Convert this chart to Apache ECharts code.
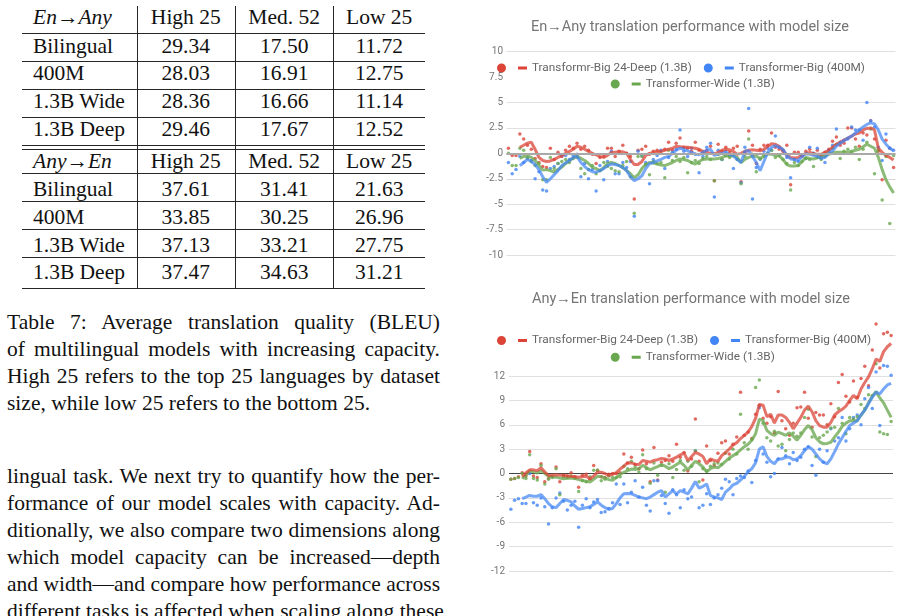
<!DOCTYPE html>
<html>
<head>
<meta charset="utf-8">
<title>Translation performance with model size</title>
<script src="https://cdn.jsdelivr.net/npm/echarts@6.0.0/dist/echarts.min.js"></script>
<style>
  html, body { margin: 0; padding: 0; background: #fff; }
  body { position: relative; width: 901px; height: 616px; overflow: hidden;
         font-family: "Liberation Serif", "DejaVu Serif", serif; color: #111; }
  .txt { position: absolute; font-size: 21.5px; line-height: 26.7px; white-space: nowrap; }
  .just { left: 7px; width: 433px; text-align: justify; text-align-last: justify; }
  .rule { position: absolute; background: #262626; }
  #chart { position: absolute; left: 460px; top: 0; width: 441px; height: 616px; }
</style>
</head>
<body>
<div id="page"></div>
<div id="chart"></div>
<script>
// ---- table 7 ----
const enAnyHead = ['En→Any', 'High 25', 'Med. 52', 'Low 25'];
const enAnyRows = [
  ['Bilingual', '29.34', '17.50', '11.72'],
  ['400M', '28.03', '16.91', '12.75'],
  ['1.3B Wide', '28.36', '16.66', '11.14'],
  ['1.3B Deep', '29.46', '17.67', '12.52']
];
const anyEnHead = ['Any→En', 'High 25', 'Med. 52', 'Low 25'];
const anyEnRows = [
  ['Bilingual', '37.61', '31.41', '21.63'],
  ['400M', '33.85', '30.25', '26.96'],
  ['1.3B Wide', '37.13', '33.21', '27.75'],
  ['1.3B Deep', '37.47', '34.63', '31.21']
];
const captionLines = [
  'Table 7:  Average translation quality (BLEU)',
  'of multilingual models with increasing capacity.',
  'High 25 refers to the top 25 languages by dataset',
  'size, while low 25 refers to the bottom 25.'
];
const bodyLines = [
  'lingual task. We next try to quantify how the per-',
  'formance of our model scales with capacity. Ad-',
  'ditionally, we also compare two dimensions along',
  'which model capacity can be increased—depth',
  'and width—and compare how performance across',
  'different tasks is affected when scaling along these'
];

// ---- chart series (one value per language pair) ----
const languages = Array.from({ length: 102 }, (_, i) => 'L' + (i + 1));

const enAnyDeepPts = [0.5,-0.2,-0.2,1.9,1.4,0.8,0.4,-0.5,-0.9,-1.3, -1.4,0.5,-0.6,0.1,-0.3,0.3,0.7,0.5,1.0,0.4,
  0.7,0.3,-0.1,-1.0,-0.4,-0.3,0.5,0.5,-0.3,0.2, 0.8,0.0,-0.3,-4.5,0.3,0.4,0.7,-0.1,0.2,0.3,
  0.2,0.4,1.1,0.3,1.0,1.5,0.6,0.5,0.2,1.1, 0.3,0.1,0.3,0.7,-2.7,0.9,0.2,0.6,0.1,0.5,
  0.7,-2.8,0.1,2.2,0.8,-1.0,0.4,0.8,0.8,2.0, 0.6,0.4,0.2,0.8,-3.1,0.1,0.1,-0.3,0.2,0.4,
  -0.1,0.3,-0.2,0.1,0.4,1.2,1.6,0.8,1.0,2.5, 2.5,1.4,0.7,2.0,1.8,3.2,1.4,0.2,-2.6,1.3, 0.5,-1.4];
const enAnyBigPts = [-0.9,-2.0,-1.6,-0.3,-0.9,-0.4,-0.7,-2.5,-1.8,-3.6, -3.7,-1.5,-1.3,-1.0,-0.2,-0.2,-0.6,-0.2,-0.1,-2.3,
  -1.0,-2.5,-1.6,-3.7,-1.2,-2.6,-0.8,0.2,-2.0,-2.0, -0.9,-1.4,-0.8,-6.2,0.2,-0.2,-0.9,-3.0,-0.6,-0.2,
  0.3,-1.5,-0.4,0.1,0.4,2.3,0.2,-0.3,0.5,-0.1, -1.9,-0.3,0.6,1.0,-4.3,0.3,-0.6,0.2,-0.2,-1.5,
  -0.6,-2.9,0.6,4.4,-4.5,-1.4,-0.6,0.2,0.5,0.3, 1.7,0.6,0.3,-0.4,-2.4,-0.6,-0.8,-0.2,-0.5,0.6,
  0.0,0.5,-0.4,-0.9,0.3,0.8,2.4,1.1,1.3,1.4, 2.6,2.3,2.3,1.3,5.0,3.2,2.6,0.6,-0.7,1.9, 0.5,0.3];
const enAnyWidePts = [0.0,-1.2,-1.2,0.5,0.3,-0.5,-0.8,-1.2,-1.0,-2.6, -2.6,-0.4,-1.5,-1.0,-0.8,-0.6,-0.9,-0.5,-0.4,-1.5,
  -2.0,-1.6,-1.2,-2.0,-1.7,-0.9,-1.3,-1.5,-1.7,-1.8, -1.2,-0.8,-2.3,-5.9,-0.3,-0.3,-1.1,-2.1,-0.8,-1.0,
  -0.9,-2.4,0.3,-0.7,-0.3,-0.8,-0.4,-1.9,-0.9,-0.7, -1.0,-0.5,-0.3,-0.6,-2.7,-0.1,-0.6,-0.2,-0.4,-0.1,
  -0.6,-3.0,-0.3,1.4,-0.1,-1.8,-0.5,-0.2,0.0,0.3, -0.4,-0.2,-0.6,-1.0,-3.6,-0.9,-1.2,-0.8,-0.5,-0.6,
  -1.3,-0.4,-0.6,-0.3,0.1,0.5,0.9,-0.5,0.2,0.4, 0.1,0.6,-0.6,0.4,1.1,2.4,-2.0,0.3,-4.6,-0.3, -6.9,-0.2];

const enAnyDeepAvg = [null,null,null,0.6,0.8,1.0,1.1,0.4,-0.4,-0.7, -0.8,-0.75,-0.6,-0.4,-0.2,0.0,0.2,0.4,0.7,0.6,
  0.4,0.2,0.0,-0.15,-0.3,-0.4,-0.2,0.1,0.1,0.15, 0.15,0.0,-0.6,-1.1,-1.1,-0.8,-0.2,0.0,0.1,0.15,
  0.2,0.3,0.4,0.5,0.7,0.65,0.6,0.6,0.55,0.5, 0.4,0.2,0.1,0.0,-0.05,0.1,0.3,0.4,0.35,0.2,
  -0.1,0.0,0.2,0.3,0.35,0.3,0.25,0.4,0.7,0.95, 0.9,0.7,0.3,-0.2,-0.4,-0.45,-0.4,-0.2,0.0,0.1,
  0.0,-0.1,-0.1,0.1,0.3,0.6,0.9,1.1,1.3,1.5, 1.7,1.9,2.0,2.3,2.45,2.5,2.3,0.5,0.1,-0.2, -0.4,-0.65];
const enAnyBigAvg = [null,null,null,-1.2,-0.9,-0.6,-0.8,-1.1,-1.6,-2.3, -2.85,-2.5,-2.1,-1.7,-1.2,-0.95,-0.7,-0.4,-0.3,-0.9,
  -1.3,-1.6,-1.8,-1.85,-1.7,-1.5,-1.2,-1.05,-1.1,-1.2, -1.4,-1.7,-2.3,-2.7,-2.5,-2.2,-1.5,-1.0,-0.9,-0.75,
  -0.6,-0.4,-0.3,0.0,0.3,0.5,0.4,0.25,0.1,-0.05, -0.15,0.1,0.3,0.4,-0.2,-0.1,0.0,0.05,-0.1,-0.25,
  -0.6,-0.9,0.2,0.25,-0.3,-0.9,-1.7,-0.8,0.1,0.6, 0.75,0.6,0.4,-0.2,-0.55,-0.6,-0.7,-0.3,-0.05,-0.1,
  -0.2,-0.3,-0.5,-0.4,0.0,0.25,0.7,1.0,1.25,1.5, 1.7,2.0,2.3,2.6,2.85,3.0,2.9,2.3,1.4,0.9, 0.5,0.25];
const enAnyWideAvg = [null,null,null,-0.5,-0.3,-0.25,-0.4,-0.7,-1.2,-1.65, -1.6,-1.7,-1.85,-1.6,-1.35,-1.0,-0.7,-0.45,-0.25,-0.5,
  -0.7,-1.0,-1.35,-1.5,-1.7,-1.4,-1.0,-0.9,-1.0,-1.2, -1.4,-1.7,-2.0,-2.4,-2.1,-1.5,-1.1,-0.9,-0.95,-1.05,
  -1.15,-1.2,-1.05,-0.9,-0.7,-0.55,-0.6,-0.7,-0.9,-1.05, -0.8,-0.6,-0.55,-0.55,-0.55,-0.5,-0.4,-0.25,-0.25,-0.25,
  -0.4,-0.9,-0.6,-0.4,-0.3,-0.25,-0.5,-0.3,-0.05,-0.1, -0.2,-0.25,-0.6,-1.1,-1.25,-1.25,-1.2,-0.8,-0.4,-0.5,
  -0.55,-0.45,-0.3,-0.25,-0.1,0.05,0.1,0.1,0.1,0.1, 0.2,0.3,0.4,0.65,0.9,0.7,0.5,-0.4,-1.6,-2.6, -3.3,-3.9];

const anyEnDeepPts = [-0.7,-0.6,-0.4,0.1,-0.3,2.7,-0.3,-0.5,1.2,-1.0, -0.6,-0.4,0.8,-1.0,-0.2,-0.3,0.1,-0.4,-1.7,-0.2,
  -0.1,-0.7,1.0,0.4,-0.4,-0.5,-0.1,0.0,0.0,0.1, 2.4,1.3,2.0,1.1,0.6,2.9,1.2,-1.0,3.2,-0.8,
  1.4,1.6,2.2,1.5,3.6,2.0,2.6,0.3,1.8,6.7, 1.5,-0.8,3.4,1.6,1.0,2.5,3.8,4.0,2.4,3.6,
  4.5,10.0,4.7,5.1,4.3,7.3,8.4,6.8,6.2,7.0, 5.0,10.1,6.5,5.5,4.7,6.2,8.1,8.2,10.0,6.8,
  5.7,7.5,7.2,7.2,6.0,8.6,7.0,11.2,12.2,9.5, 8.8,11.4,9.4,11.7,13.2,10.8,15.2,18.4,13.0,17.2, 17.4,17.0];
const anyEnBigPts = [-4.4,-3.3,-3.1,-3.7,-3.7,0.0,-3.6,-3.9,-3.0,-4.1, -6.2,-4.2,-3.0,-2.4,-3.4,-4.5,-3.9,-3.4,-6.6,-3.9,
  -3.1,-4.2,-3.5,-3.2,-4.8,-4.7,-4.3,-3.6,-1.3,-3.8, -1.3,-3.6,-2.3,-0.9,-2.9,-1.7,-3.9,-4.6,-0.9,-0.9,
  -2.7,-3.7,-4.9,-2.0,-2.6,-4.2,-2.0,-3.1,-2.9,2.8, -4.2,-3.9,-2.5,-3.8,-3.0,-2.6,-1.8,-0.7,-1.0,-2.6,
  -0.6,-0.3,-0.5,0.3,-1.1,1.6,8.1,2.4,1.4,-0.4, 0.0,1.8,3.2,2.2,1.2,2.6,1.6,2.0,3.0,3.3,
  1.0,-0.2,3.0,1.4,2.8,5.5,4.0,4.4,6.9,4.0, 5.5,6.9,7.2,6.0,9.2,10.6,8.0,12.5,5.9,13.3, 13.2,12.1];
const anyEnWidePts = [-0.7,-0.6,-0.5,0.0,-0.6,2.3,-0.6,-0.8,1.0,-1.3, -0.7,-0.5,0.6,-2.6,-0.4,-0.5,-0.3,-0.6,-2.2,-0.9,
  -1.0,-0.4,0.4,0.4,-0.9,-0.7,-0.3,-0.5,-0.5,-0.4, 0.9,0.6,1.5,0.8,0.2,2.3,0.6,-1.2,1.3,-0.2,
  1.0,-2.3,1.2,-0.5,0.5,1.6,0.4,1.5,0.9,2.8, -1.0,0.6,0.3,0.9,1.2,1.3,1.1,2.5,1.8,3.0,
  2.4,7.3,3.8,3.0,4.2,10.6,11.5,6.2,4.4,4.0, 5.2,3.4,3.6,2.8,4.2,5.0,4.6,5.0,6.9,7.9,
  4.5,2.1,4.4,4.7,5.1,5.6,5.7,8.0,6.2,4.9, 6.9,6.7,7.0,8.5,8.0,9.7,9.6,13.5,5.1,4.9, 4.8,6.4];

const anyEnDeepAvg = [null,null,null,-0.4,0.1,0.45,0.45,0.35,0.7,0.2, -0.25,-0.2,-0.15,-0.2,-0.25,-0.3,-0.35,-0.4,-0.45,-0.4,
  -0.35,-0.65,-0.3,0.15,0.15,0.0,-0.25,-0.1,0.1,0.55, 0.9,1.3,1.3,1.15,1.1,1.6,1.5,1.4,1.6,1.7,
  1.85,1.8,1.6,1.8,2.0,2.3,2.5,1.6,2.1,2.6, 2.4,2.1,1.2,1.8,1.6,1.5,2.2,2.6,3.0,3.5,
  3.8,4.3,4.7,5.1,5.8,6.8,8.5,8.4,7.0,7.3, 6.2,7.2,7.2,6.9,6.3,5.5,6.2,6.9,7.8,8.3,
  7.6,6.5,5.9,5.7,5.7,6.3,7.2,7.6,7.9,8.3, 9.0,9.6,9.2,10.4,11.2,11.9,12.9,14.1,13.8,15.0, 15.6,16.0];
const anyEnBigAvg = [null,null,null,-3.1,-2.9,-2.7,-2.8,-2.8,-2.6,-3.1, -3.7,-4.1,-4.2,-3.7,-3.2,-3.3,-3.5,-4.0,-4.4,-4.3,
  -4.2,-4.1,-3.8,-3.5,-3.9,-4.2,-4.4,-4.3,-3.7,-3.0, -2.5,-2.45,-2.5,-2.7,-2.9,-3.0,-3.1,-2.9,-2.6,-2.3,
  -2.1,-2.9,-2.5,-2.1,-2.5,-2.1,-2.3,-2.5,-1.8,-1.0, -1.8,-1.6,-1.3,-2.7,-2.9,-3.0,-3.2,-2.3,-1.9,-1.4,
  -1.2,-0.8,-0.35,0.2,0.6,1.3,3.0,3.3,2.1,1.5, 1.2,1.8,1.8,2.0,2.0,1.7,1.8,2.2,2.8,3.3,
  3.0,2.4,1.8,1.4,1.2,1.8,2.7,3.65,4.4,5.2, 5.9,6.2,6.5,7.2,7.8,8.6,9.4,10.0,9.8,10.4, 10.9,11.1];
const anyEnWideAvg = [null,null,null,-0.65,-0.2,0.3,0.2,0.05,0.35,0.0, -0.35,-0.4,-0.45,-0.55,-0.65,-0.6,-0.55,-0.6,-0.75,-0.85,
  -0.95,-1.05,-0.7,-0.35,-0.4,-0.55,-0.75,-0.85,-0.5,-0.1, 0.15,0.35,0.55,0.5,0.6,1.0,0.75,0.45,0.65,0.85,
  1.1,0.9,0.6,0.8,1.1,1.4,1.0,0.45,1.0,1.5, 1.2,0.8,0.2,0.6,0.8,0.7,1.1,1.5,1.9,2.2,
  2.5,2.9,3.3,3.6,4.1,4.9,6.7,6.5,5.3,4.9, 4.7,5.1,4.9,4.7,5.0,4.6,4.1,4.7,5.4,5.9,
  5.4,4.4,3.9,3.65,3.7,3.85,4.5,5.1,5.8,6.2, 6.5,6.5,6.5,7.2,7.8,8.7,9.5,10.1,9.3,8.7, 7.8,6.9];

// ---- left column: table, caption, body text ----
const page = document.getElementById('page');
function put(cls, text, css) {
  const d = document.createElement('div');
  d.className = cls;
  d.textContent = text;
  Object.assign(d.style, css);
  page.appendChild(d);
  return d;
}
const ASC = 20.6; // baseline offset in a 26.7px line box
const colCenters = [null, 185.8, 284.2, 379.2];
const rowBaselines = [25, 53.3, 81, 109, 136.7, 169, 196.7, 224.3, 252.3, 280];
const ruleYs = [33.3, 61, 89, 116.7, 145, 148.7, 173.3, 201, 229, 256.7, 288.3];
const colRules = [136.7, 235, 333.3];

let r = 0;
[[enAnyHead, enAnyRows], [anyEnHead, anyEnRows]].forEach(([head, rows]) => {
  [head, ...rows].forEach((row, k) => {
    const top = (rowBaselines[r] - ASC) + 'px';
    row.forEach((cell, c) => {
      if (c === 0) {
        const d = put('txt', cell, { left: '33px', top });
        if (k === 0) d.style.fontStyle = 'italic';
      } else {
        put('txt', cell, { left: (colCenters[c] - 50) + 'px', width: '100px', textAlign: 'center', top });
      }
    });
    r++;
  });
});
ruleYs.forEach(y => put('rule', '', { left: '22px', width: '403px', top: y + 'px', height: '1px' }));
colRules.forEach(x => put('rule', '', { left: x + 'px', width: '1px', top: '6px', height: '283px' }));

captionLines.forEach((t, i) => {
  const d = put('txt just', t, { top: (330 - ASC + i * 26.7) + 'px' });
  if (i === captionLines.length - 1) d.style.textAlignLast = 'left';
});
bodyLines.forEach((t, i) => put('txt just', t, { top: (483.3 - ASC + i * 27.05) + 'px' }));

// ---- charts ----
const chart = echarts.init(document.getElementById('chart'), null, { renderer: 'canvas' });

const deepTopName = 'Transformr-Big 24-Deep (1.3B)';
const deepBotName = 'Transformer-Big 24-Deep (1.3B)';
const bigName = 'Transformer-Big (400M)';
const wideName = 'Transformer-Wide (1.3B)';

const dotColor = { red: '#db4437', blue: '#4285f4', green: '#6aa84f' };
const lineColor = { red: 'rgba(219,68,55,0.75)', blue: 'rgba(66,133,244,0.72)', green: 'rgba(106,168,79,0.78)' };
const grid = '#e0e0e0';
// dot + short dash, as in the Sheets legend
const legendIcon = 'path://M0,5A4.5,4.5,0,1,1,9,5A4.5,4.5,0,1,1,0,5ZM21,3.5H30V6.5H21Z';

function legendRow(left, top, items) {
  return {
    left, top, padding: 0, itemGap: 12, itemWidth: 30, itemHeight: 10,
    selectedMode: false,
    itemStyle: { borderWidth: 0 },
    data: items.map(([name, c]) => ({ name, icon: legendIcon, itemStyle: { color: dotColor[c], borderWidth: 0 } })),
    textStyle: { fontFamily: 'Roboto', fontSize: 11.8, color: '#666' }
  };
}
function dots(data, c, g) {
  return { type: 'scatter', xAxisIndex: g, yAxisIndex: g, data, symbolSize: 3.5, clip: false,
           itemStyle: { color: dotColor[c] }, silent: true, z: 2 };
}
function avg(name, data, c, g) {
  return { name, type: 'line', xAxisIndex: g, yAxisIndex: g, data, showSymbol: false, clip: false,
           lineStyle: { color: lineColor[c], width: 3 }, itemStyle: { color: dotColor[c] }, silent: true, z: 3 };
}
const titleStyle = { fontFamily: 'Roboto', fontSize: 14.5, fontWeight: 'normal', color: '#757575' };
const yLabel = { fontFamily: 'Roboto', fontSize: 10, color: '#757575' };

chart.setOption({
  animation: false,
  title: [
    { text: 'En→Any translation performance with model size', left: 230, top: 20, textAlign: 'center', padding: 0, textStyle: titleStyle },
    { text: 'Any→En translation performance with model size', left: 231, top: 292, textAlign: 'center', padding: 0, textStyle: titleStyle }
  ],
  legend: [
    legendRow(37, 62, [[deepTopName, 'red'], [bigName, 'blue']]),
    legendRow(150.7, 78, [[wideName, 'green']]),
    legendRow(37, 334.5, [[deepBotName, 'red'], [bigName, 'blue']]),
    legendRow(150.7, 351.3, [[wideName, 'green']])
  ],
  grid: [
    { left: 46.5, top: 51.7, width: 389, height: 203.3 },
    { left: 49, top: 376, width: 384, height: 195 }
  ],
  xAxis: [
    { gridIndex: 0, type: 'category', data: languages, show: false },
    { gridIndex: 1, type: 'category', data: languages, show: false }
  ],
  yAxis: [
    { gridIndex: 0, type: 'value', min: -10, max: 10, interval: 2.5,
      axisLine: { show: false }, axisTick: { show: false },
      axisLabel: Object.assign({ margin: 3.5 }, yLabel),
      splitLine: { lineStyle: { width: 1, color: [grid, grid, grid, '#d6d6d6', grid, grid, grid, 'rgba(0,0,0,0)', grid] } } },
    { gridIndex: 1, type: 'value', min: -12, max: 12, interval: 3,
      axisLine: { show: false }, axisTick: { show: false },
      axisLabel: Object.assign({ margin: 4 }, yLabel),
      splitLine: { lineStyle: { width: 1, color: [grid, grid, grid, grid, '#444', grid, grid, grid, grid] } } }
  ],
  series: [
    { type: 'line', xAxisIndex: 0, yAxisIndex: 0, data: [], z: 1, silent: true,
      markLine: { silent: true, symbol: 'none', label: { show: false }, animation: false,
        data: [{ yAxis: 0, lineStyle: { color: '#a9a9a9', width: 2, type: 'solid' } }] } },
    dots(enAnyDeepPts, 'red', 0),
    dots(enAnyBigPts, 'blue', 0),
    dots(enAnyWidePts, 'green', 0),
    avg(wideName, enAnyWideAvg, 'green', 0),
    avg(deepTopName, enAnyDeepAvg, 'red', 0),
    avg(bigName, enAnyBigAvg, 'blue', 0),

    dots(anyEnDeepPts, 'red', 1),
    dots(anyEnBigPts, 'blue', 1),
    dots(anyEnWidePts, 'green', 1),
    avg(wideName, anyEnWideAvg, 'green', 1),
    avg(deepBotName, anyEnDeepAvg, 'red', 1),
    avg(bigName, anyEnBigAvg, 'blue', 1)
  ]
});
</script>
</body>
</html>
